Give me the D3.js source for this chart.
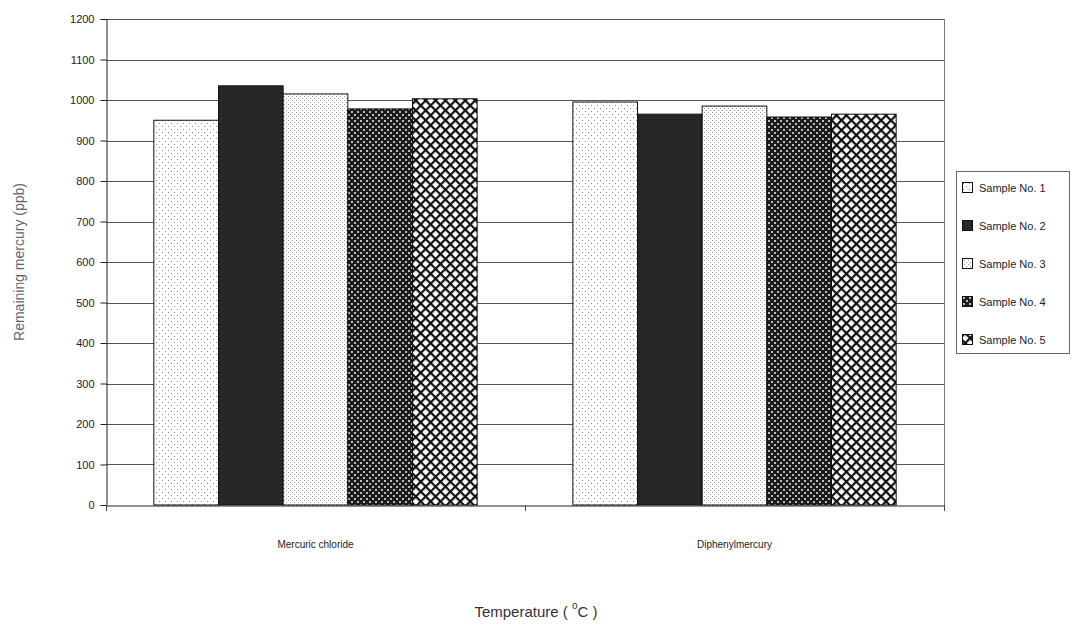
<!DOCTYPE html>
<html><head><meta charset="utf-8">
<script src="https://cdn.jsdelivr.net/npm/d3@7"></script>
<style>body{margin:0;background:#fff;} svg{display:block;font-family:"Liberation Sans",Arial,sans-serif;}</style>
</head><body>
<svg id="c" width="1072" height="628"></svg>
<script>
const categories = ["Mercuric chloride", "Diphenylmercury"];
const series = ["Sample No. 1", "Sample No. 2", "Sample No. 3", "Sample No. 4", "Sample No. 5"];
const sample1 = [950, 995];
const sample2 = [1035, 965];
const sample3 = [1015, 985];
const sample4 = [978, 958];
const sample5 = [1003, 965];
const values = [sample1, sample2, sample3, sample4, sample5];
const yTicks = [0,100,200,300,400,500,600,700,800,900,1000,1100,1200];

const svg = d3.select("#c");
const m = {l:106, r:944, t:19, b:505};
const x0 = d3.scaleBand().domain(categories).range([m.l, m.r]).paddingInner(0).paddingOuter(0);
const x1 = d3.scaleBand().domain(series).range([0, x0.bandwidth()]).paddingOuter(0.74);
const y = d3.scaleLinear().domain([0,1200]).range([m.b, m.t]);

// patterns
const defs = svg.append("defs");
const p1 = defs.append("pattern").attr("id","p1").attr("width",6).attr("height",6).attr("patternUnits","userSpaceOnUse");
p1.append("rect").attr("width",6).attr("height",6).attr("fill","#fff");
p1.append("rect").attr("x",0).attr("y",0).attr("width",1).attr("height",1).attr("fill","#888");
p1.append("rect").attr("x",3).attr("y",3).attr("width",1).attr("height",1).attr("fill","#888");
const p2 = defs.append("pattern").attr("id","p2").attr("width",4).attr("height",4).attr("patternUnits","userSpaceOnUse");
p2.append("rect").attr("width",4).attr("height",4).attr("fill","#262626");
p2.append("rect").attr("x",1).attr("y",2).attr("width",1).attr("height",1).attr("fill","#3a3a3a");
const p3 = defs.append("pattern").attr("id","p3").attr("width",4).attr("height",4).attr("patternUnits","userSpaceOnUse");
p3.append("rect").attr("width",4).attr("height",4).attr("fill","#fff");
p3.append("rect").attr("x",0).attr("y",0).attr("width",1).attr("height",1).attr("fill","#999");
p3.append("rect").attr("x",2).attr("y",2).attr("width",1).attr("height",1).attr("fill","#999");
const p4 = defs.append("pattern").attr("id","p4").attr("width",6).attr("height",6).attr("patternUnits","userSpaceOnUse");
p4.append("rect").attr("width",6).attr("height",6).attr("fill","#1c1c1c");
p4.append("rect").attr("x",0).attr("y",0).attr("width",2).attr("height",2).attr("fill","#bbb");
p4.append("rect").attr("x",3).attr("y",3).attr("width",2).attr("height",2).attr("fill","#bbb");
const p5 = defs.append("pattern").attr("id","p5").attr("width",7).attr("height",7).attr("patternUnits","userSpaceOnUse").attr("patternTransform","rotate(45)");
p5.append("rect").attr("width",7).attr("height",7).attr("fill","#fff");
p5.append("rect").attr("x",0).attr("y",0).attr("width",2.2).attr("height",7).attr("fill","#111");
p5.append("rect").attr("x",0).attr("y",0).attr("width",7).attr("height",2.2).attr("fill","#111");
const fills = ["url(#p1)","url(#p2)","url(#p3)","url(#p4)","url(#p5)"];

// grid
svg.append("g").selectAll("line").data(yTicks.filter(d=>d>0)).join("line")
  .attr("x1",m.l).attr("x2",m.r).attr("y1",d=>Math.round(y(d))+0.5).attr("y2",d=>Math.round(y(d))+0.5)
  .attr("stroke","#555").attr("stroke-width",1);
// right border
svg.append("line").attr("x1",m.r+0.5).attr("x2",m.r+0.5).attr("y1",m.t).attr("y2",m.b).attr("stroke","#777");

// bars
series.forEach((s,i)=>{
  svg.append("g").selectAll("rect").data(categories).join("rect")
    .attr("x",(c)=>x0(c)+x1(s)).attr("width",x1.bandwidth())
    .attr("y",(c,j)=>y(values[i][j])).attr("height",(c,j)=>y(0)-y(values[i][j]))
    .attr("fill",fills[i]).attr("stroke","#111").attr("stroke-width",1);
});

// y axis
const ya = svg.append("g").attr("transform",`translate(${m.l+0.5},0)`)
  .call(d3.axisLeft(y).tickValues(yTicks).tickSize(6).tickPadding(6).tickFormat(d3.format("d")));
ya.select(".domain").attr("stroke","#222");
ya.selectAll(".tick line").attr("stroke","#222");
ya.selectAll("text").attr("font-size",11).attr("fill","#222").attr("font-family","Liberation Sans, Arial, sans-serif");

// x axis
const xa = svg.append("g").attr("transform",`translate(0,${m.b+0.5})`)
  .call(d3.axisBottom(x0).tickSize(0).tickPadding(35));
xa.select(".domain").attr("stroke","#222");
xa.selectAll("text").attr("font-size",10).attr("fill","#222").attr("font-family","Liberation Sans, Arial, sans-serif");
// category boundary ticks
svg.append("g").selectAll("line").data([m.l, x0(categories[1]), m.r]).join("line")
  .attr("x1",d=>d+0.5).attr("x2",d=>d+0.5).attr("y1",m.b).attr("y2",m.b+6).attr("stroke","#444");

// axis titles
svg.append("text").attr("transform","translate(24,262) rotate(-90)").attr("text-anchor","middle")
  .attr("font-size",14).attr("fill","#666").text("Remaining mercury (ppb)");
const tt = svg.append("text").attr("x",536).attr("y",617).attr("text-anchor","middle").attr("font-size",15).attr("fill","#333");
tt.append("tspan").text("Temperature ( ");
tt.append("tspan").attr("font-size",10).attr("dy",-8).text("o");
tt.append("tspan").attr("dy",8).text("C )");

// legend
const lg = svg.append("g");
lg.append("rect").attr("x",956.5).attr("y",171.5).attr("width",113).attr("height",182).attr("fill","#fff").attr("stroke","#666");
const ly = d3.scalePoint().domain(series).range([188, 340]);
lg.selectAll("rect.sw").data(series).join("rect").attr("class","sw")
  .attr("x",962.5).attr("y",d=>ly(d)-5.5).attr("width",10).attr("height",10)
  .attr("fill",(d,i)=>fills[i]).attr("stroke","#111");
lg.selectAll("text").data(series).join("text")
  .attr("x",979).attr("y",d=>ly(d)+4).attr("font-size",11).attr("fill","#222").text(d=>d);
</script>
</body></html>
